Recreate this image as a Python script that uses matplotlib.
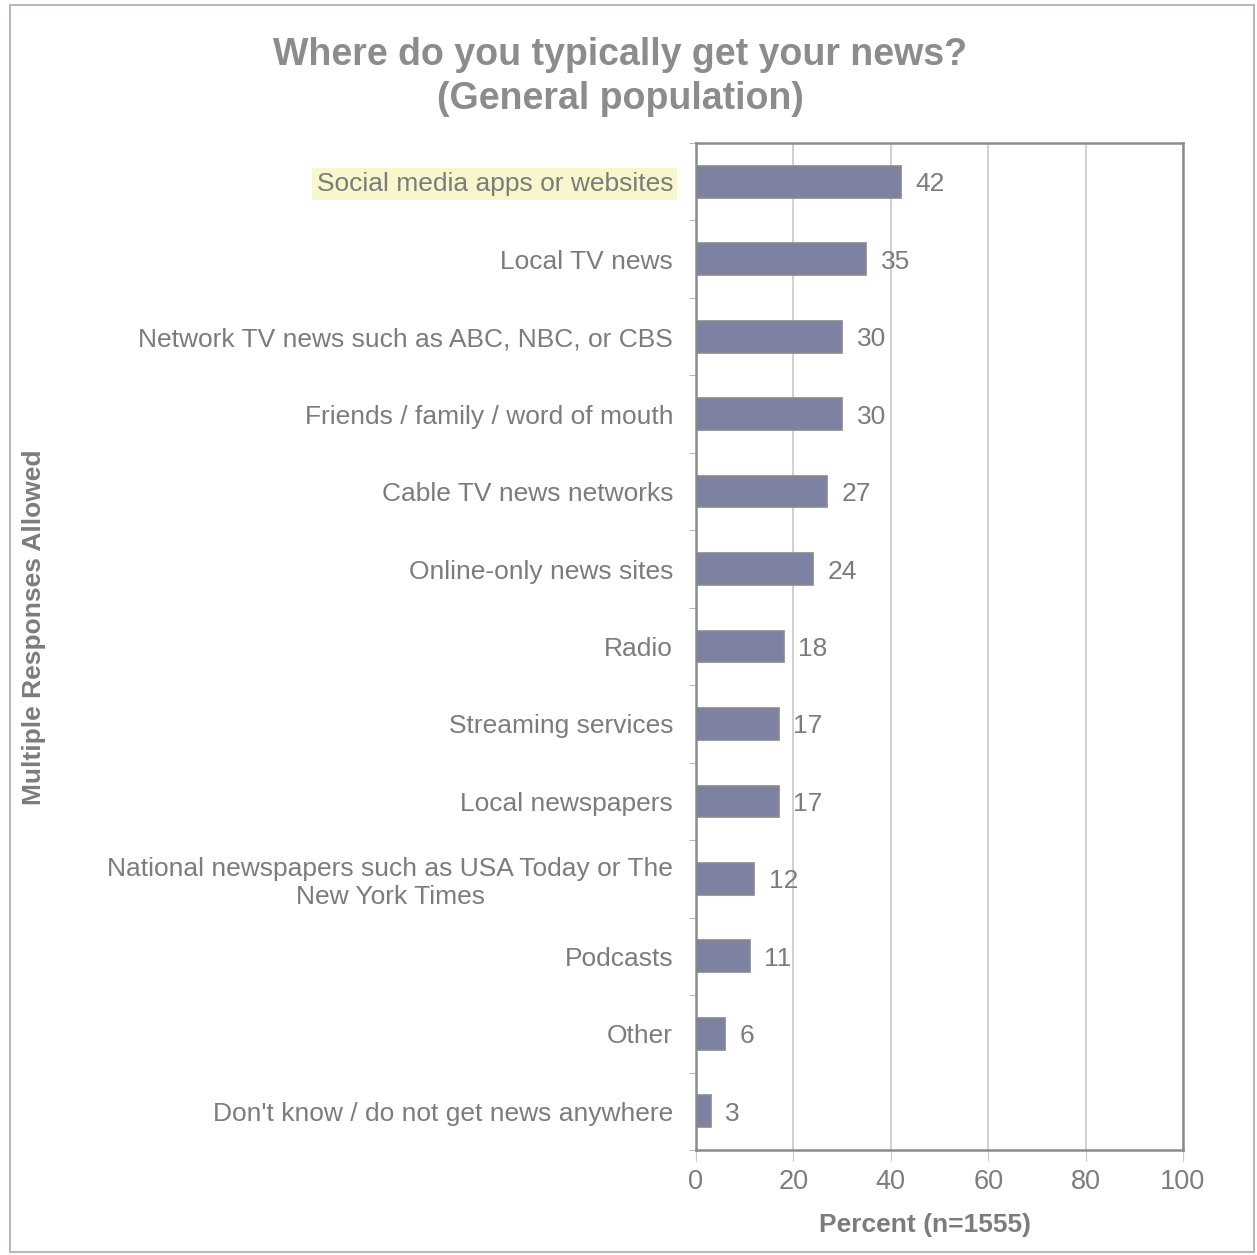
import matplotlib
matplotlib.use("Agg")
import matplotlib.pyplot as plt
import numpy as np

plt.rcParams['font.family'] = ['Liberation Sans', 'DejaVu Sans']

# data
categories = [
    "Social media apps or websites",
    "Local TV news",
    "Network TV news such as ABC, NBC, or CBS",
    "Friends / family / word of mouth",
    "Cable TV news networks",
    "Online-only news sites",
    "Radio",
    "Streaming services",
    "Local newspapers",
    "National newspapers such as USA Today or The\nNew York Times",
    "Podcasts",
    "Other",
    "Don't know / do not get news anywhere",
]
percents = [42, 35, 30, 30, 27, 24, 18, 17, 17, 12, 11, 6, 3]
x_ticks = [0, 20, 40, 60, 80, 100]

text_col = '#7c7c7c'
frame_col = '#8c8c8c'
bar_col = '#7d82a3'

fig = plt.figure(figsize=(12.57, 12.55), dpi=100)
# outer border of the chart area
fig.patches.append(plt.Rectangle((10 / 1257, 3 / 1255), 1244 / 1257, 1247 / 1255,
                                 transform=fig.transFigure, fill=False,
                                 edgecolor='#b8b8c4', linewidth=1.5))

ax = fig.add_axes([696 / 1257, 1 - 1150 / 1255, 487 / 1257, 1007 / 1255])

y = np.arange(len(categories))
ax.barh(y, percents, height=0.41, color=bar_col, edgecolor='#8a8a8a', linewidth=1.2, zorder=3)
ax.set_ylim(len(categories) - 0.5, -0.5)
ax.set_xlim(0, 100)

for yi, v in zip(y, percents):
    ax.annotate(str(v), (v, yi), xytext=(10.5, 0), textcoords='offset points',
                va='center_baseline', ha='left', fontsize=19, color=text_col)

ax.set_yticks(y)
ax.set_yticklabels(categories, fontsize=19, color=text_col, multialignment='center')
ax.tick_params(axis='y', which='major', length=0, pad=16.5)
ax.set_yticks(np.arange(len(categories) + 1) - 0.5, minor=True)
ax.tick_params(axis='y', which='minor', length=5, color='#aaaaaa', direction='out')

# highlight the first label
lab0 = ax.get_yticklabels()[0]
lab0.set_bbox(dict(facecolor='#f8f6cc', edgecolor='none', pad=3))

ax.set_xticks(x_ticks)
ax.set_xticklabels([str(t) for t in x_ticks], fontsize=19.5, color=text_col)
ax.tick_params(axis='x', length=8, color='#c8c8c8', pad=6)
ax.grid(axis='x', color='#c8c8c8', linewidth=1.2, zorder=0)
ax.set_axisbelow(True)

for s in ax.spines.values():
    s.set_color(frame_col)
    s.set_linewidth(1.8)

ax.set_xlabel("Percent (n=1555)", fontsize=19, fontweight='bold', color=text_col)
ax.xaxis.set_label_coords(0.47, -0.063)

fig.text(34 / 1257, 1 - 627 / 1255, "Multiple Responses Allowed", rotation=90,
         ha='center', va='center', fontsize=19, fontweight='bold', color=text_col)
fig.text(620 / 1257, 1 - 77 / 1255, "Where do you typically get your news?\n(General population)",
         ha='center', va='center', fontsize=27, fontweight='bold', color='#8c8c8c',
         linespacing=1.27)

fig.savefig("out.png", dpi=100, facecolor='white')
